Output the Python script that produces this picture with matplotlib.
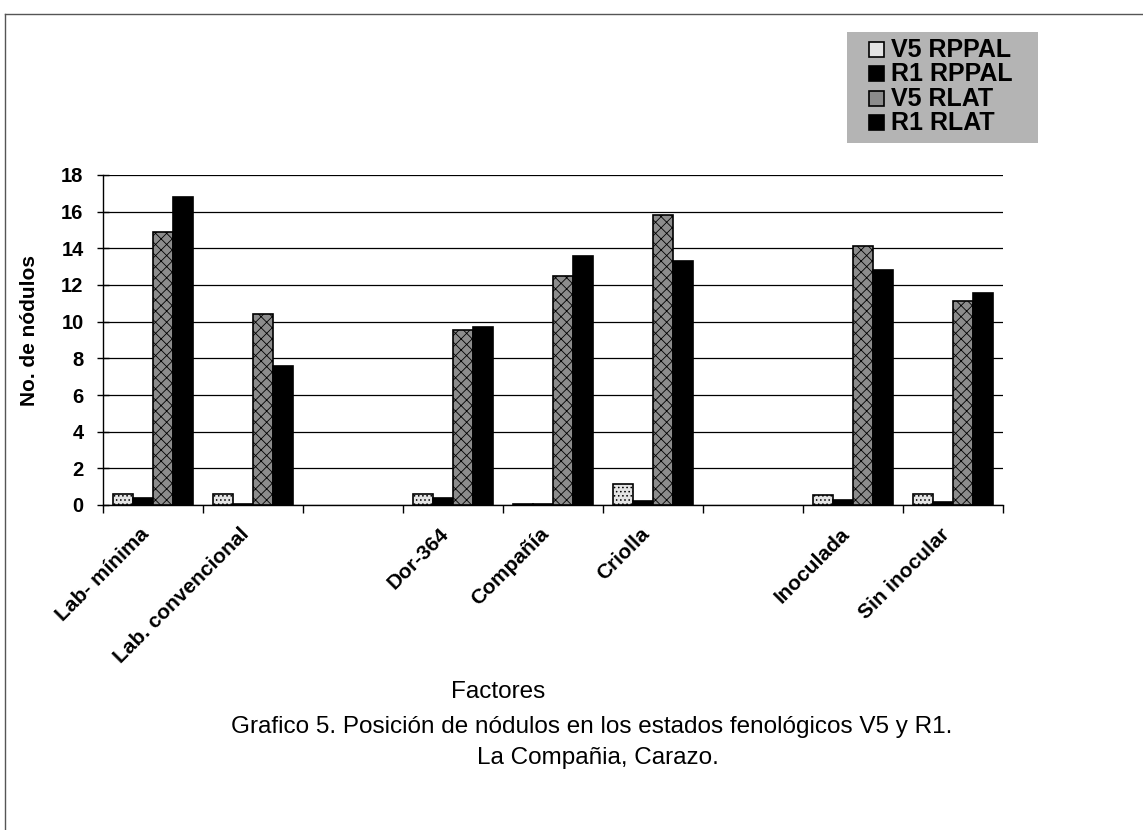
import numpy as np
import matplotlib
matplotlib.use("Agg")
import matplotlib.pyplot as plt
from matplotlib.patches import Rectangle
from matplotlib.lines import Line2D

plt.rcParams['font.family'] = ['Liberation Sans', 'DejaVu Sans']
plt.rcParams['hatch.linewidth'] = 0.6

# categories (empty slots are the gaps between factor groups)
categories = ["Lab- mínima", "Lab. convencional", "", "Dor-364", "Compañía",
              "Criolla", "", "Inoculada", "Sin inocular"]
series_names = ["V5 RPPAL", "R1 RPPAL", "V5 RLAT", "R1 RLAT"]
v5_rppal = [0.6, 0.6, np.nan, 0.6, 0.08, 1.15, np.nan, 0.55, 0.6]
r1_rppal = [0.4, 0.05, np.nan, 0.4, 0.08, 0.2, np.nan, 0.25, 0.15]
v5_rlat = [14.9, 10.4, np.nan, 9.55, 12.5, 15.8, np.nan, 14.1, 11.1]
r1_rlat = [16.8, 7.6, np.nan, 9.7, 13.6, 13.3, np.nan, 12.8, 11.55]
yticks = [0, 2, 4, 6, 8, 10, 12, 14, 16, 18]

W, H = 1143, 830
fig = plt.figure(figsize=(W / 100, H / 100), dpi=100)
fig.patch.set_facecolor('white')

# axes box in pixels: x 103..1003, y 175..505
ax = fig.add_axes([103 / W, 1 - 505 / H, 900 / W, 330 / H])

x = np.arange(len(categories)) + 0.5
bw = 0.2
styles = [
    dict(facecolor='#e4e4e4', hatch='....', edgecolor='black'),
    dict(facecolor='black', edgecolor='black'),
    dict(facecolor='#8c8c8c', hatch='xxx', edgecolor='black'),
    dict(facecolor='black', edgecolor='black'),
]
all_vals = [v5_rppal, r1_rppal, v5_rlat, r1_rlat]
for i, (vals, st) in enumerate(zip(all_vals, styles)):
    ax.bar(x + (i - 1.5) * bw, vals, width=bw, linewidth=1.2, zorder=3, **st)

ax.set_xlim(0, len(categories))
ax.set_ylim(0, 18)
ax.set_yticks(yticks)
ax.yaxis.grid(True, color='black', linewidth=0.9, zorder=0)
ax.set_axisbelow(True)
for s in ['top', 'right']:
    ax.spines[s].set_visible(False)
for s in ['left', 'bottom']:
    ax.spines[s].set_linewidth(1.0)

ax.set_xticks(np.arange(len(categories) + 1))
ax.set_xticklabels([])
ax.set_xticks(x, minor=True)
ax.set_xticklabels(categories, minor=True, rotation=45, ha='right', va='top',
                   fontsize=15, fontweight='bold')
ax.tick_params(axis='x', which='major', direction='out', length=6, width=1)
ax.tick_params(axis='x', which='minor', length=0, pad=14)
ax.tick_params(axis='y', direction='inout', length=8, width=1, pad=10,
               labelsize=14.5)
for t in ax.get_yticklabels():
    t.set_fontweight('bold')

fig.text(30 / W, 1 - 330 / H, "No. de nódulos", rotation=90, ha='center',
         va='center', fontsize=15, fontweight='bold')
fig.text(498 / W, 1 - 692 / H, "Factores", ha='center', va='center',
         fontsize=17.5)
fig.text(592 / W, 1 - 727 / H,
         "Grafico 5. Posición de nódulos en los estados fenológicos V5 y R1.",
         ha='center', va='center', fontsize=17.5)
fig.text(598 / W, 1 - 758 / H, "La Compañia, Carazo.", ha='center',
         va='center', fontsize=17.5)

# legend box (gray background, square swatches, bold labels)
fig.add_artist(Rectangle((847 / W, 1 - 143 / H), 191 / W, 111 / H,
                         facecolor='#b4b4b4', edgecolor='none',
                         transform=fig.transFigure))
row_y = [50, 74, 99, 123]
for name, st, ry in zip(series_names, styles, row_y):
    fig.add_artist(Rectangle((869 / W, 1 - (ry + 7.5) / H), 15 / W, 15 / H,
                             facecolor=st['facecolor'], edgecolor='black',
                             linewidth=1.2, transform=fig.transFigure))
    fig.text(891 / W, 1 - ry / H, name, ha='left', va='center',
             fontsize=18, fontweight='bold')

# outer frame of the scanned page
fig.add_artist(Line2D([5 / W, 5 / W], [0, 1 - 14 / H], color='#555555',
                      linewidth=1.0, transform=fig.transFigure))
fig.add_artist(Line2D([5 / W, 1], [1 - 14 / H, 1 - 14 / H], color='#555555',
                      linewidth=1.0, transform=fig.transFigure))

fig.savefig("out.png", dpi=100)
